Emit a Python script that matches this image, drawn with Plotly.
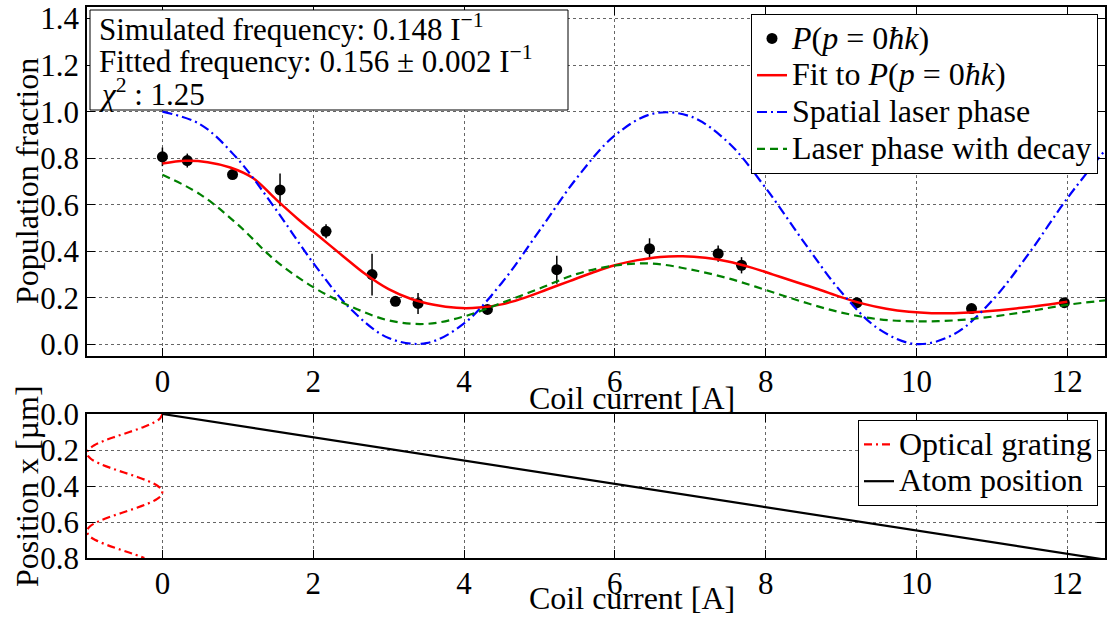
import plotly.graph_objects as go

# Measured population of the p = 0 hbar k momentum state vs. coil current
current = [0.0, 0.33, 0.93, 1.56, 2.17, 2.78, 3.09, 3.39, 4.31, 5.23, 6.46, 7.37, 7.68, 9.21, 10.73, 11.96]
population = [0.806, 0.790, 0.730, 0.664, 0.486, 0.300, 0.185, 0.176, 0.150, 0.321, 0.411, 0.390, 0.340, 0.179, 0.154, 0.179]
population_err = [0.04, 0.03, 0.012, 0.07, 0.03, 0.09, 0.02, 0.045, 0.015, 0.06, 0.045, 0.035, 0.035, 0.01, 0.008, 0.01]

# Damped-oscillation fit to the measured points
fit_current = [0.0, 0.3, 0.6, 0.9, 1.2, 1.5, 1.8, 2.1, 2.4, 2.7, 3.0, 3.3, 3.6, 3.9, 4.2, 4.5, 4.8,
               5.1, 5.4, 5.7, 6.0, 6.3, 6.6, 6.9, 7.2, 7.5, 7.8, 8.1, 8.4, 8.7, 9.0, 9.3, 9.6,
               9.9, 10.2, 10.5, 10.8, 11.1, 11.4, 11.7, 12.0]
fit_population = [0.777, 0.789, 0.783, 0.760, 0.715, 0.625, 0.538, 0.458, 0.378, 0.300, 0.237, 0.195,
                  0.170, 0.157, 0.158, 0.172, 0.200, 0.236, 0.272, 0.308, 0.340, 0.362, 0.376, 0.379,
                  0.372, 0.356, 0.331, 0.300, 0.268, 0.237, 0.203, 0.174, 0.153, 0.140, 0.134, 0.134,
                  0.139, 0.147, 0.157, 0.169, 0.183]

# Spatial laser phase seen by the atoms, and the same with decoherence
phase_current = [0.0, 0.5, 1.0, 1.5, 2.0, 2.5, 3.0, 3.5, 4.0, 4.5, 5.0, 5.5, 6.0, 6.5, 7.0,
                 7.5, 8.0, 8.5, 9.0, 9.5, 10.0, 10.5, 11.0, 11.5, 12.0, 12.5]
laser_phase = [1.000, 0.946, 0.796, 0.582, 0.350, 0.151, 0.027, 0.005, 0.090, 0.264, 0.489, 0.717,
               0.898, 0.991, 0.980, 0.869, 0.672, 0.443, 0.226, 0.066, 0.001, 0.044, 0.187, 0.395,
               0.628, 0.834]
laser_phase_decay = [0.729, 0.645, 0.515, 0.360, 0.246, 0.163, 0.103, 0.088, 0.120, 0.178, 0.240,
                     0.303, 0.339, 0.347, 0.322, 0.284, 0.234, 0.182, 0.137, 0.108, 0.099, 0.103,
                     0.119, 0.143, 0.170, 0.189]

# Lower panel: standing-wave intensity profile and atom displacement
grating_position = [0.0, 0.025, 0.05, 0.075, 0.1, 0.125, 0.15, 0.175, 0.2, 0.225, 0.25, 0.275, 0.3,
                    0.325, 0.35, 0.375, 0.4, 0.425, 0.45, 0.475, 0.5, 0.525, 0.55, 0.575, 0.6, 0.625,
                    0.65, 0.675, 0.7, 0.725, 0.75, 0.775, 0.8]
grating_intensity = [0.0, -0.032, -0.125, -0.266, -0.437, -0.616, -0.781, -0.909, -0.984, -0.997,
                     -0.946, -0.837, -0.685, -0.509, -0.332, -0.177, -0.062, -0.005, -0.012, -0.081,
                     -0.204, -0.366, -0.544, -0.719, -0.863, -0.963, -1.000, -0.975, -0.888, -0.750,
                     -0.584, -0.405, -0.239]
atom_current = [0.0, 12.5]
atom_position = [0.0, 0.809]

x_ticks = [0, 2, 4, 6, 8, 10, 12]

FONT = "Liberation Serif, Times New Roman, serif"
W, H = 1112, 619
ML, MR, MT, MB = 87, 7, 7, 61


def px_x(p):
    return (p - ML) / (W - ML - MR)


def px_y(p):
    return (H - MB - p) / (H - MT - MB)


def big(label):
    # legend rows keep a compact spacing while the label itself is drawn larger
    return '<span style="font-size:32px">' + label + "</span>"


fig = go.Figure()

fig.add_trace(go.Scatter(
    x=current, y=population, mode="markers",
    error_y=dict(type="data", array=population_err, color="black", thickness=1.5, width=0),
    marker=dict(color="black", size=11),
    name=big("<i>P</i>(<i>p</i> = 0<i>ħk</i>)"), legend="legend",
    xaxis="x", yaxis="y"))
fig.add_trace(go.Scatter(
    x=fit_current, y=fit_population, mode="lines",
    line=dict(color="#ff0000", width=2.5, shape="spline"),
    name=big("Fit to <i>P</i>(<i>p</i> = 0<i>ħk</i>)"), legend="legend",
    xaxis="x", yaxis="y"))
fig.add_trace(go.Scatter(
    x=phase_current, y=laser_phase, mode="lines",
    line=dict(color="#0000ff", width=2.2, dash="10px,4px,2px,4px", shape="spline"),
    name=big("Spatial laser phase"), legend="legend",
    xaxis="x", yaxis="y"))
fig.add_trace(go.Scatter(
    x=phase_current, y=laser_phase_decay, mode="lines",
    line=dict(color="#008000", width=2.2, dash="8px,5px", shape="spline"),
    name=big("Laser phase with decay"), legend="legend",
    xaxis="x", yaxis="y"))

fig.add_trace(go.Scatter(
    x=grating_intensity, y=grating_position, mode="lines",
    line=dict(color="#ff0000", width=2.2, dash="8px,4px,2px,4px", shape="spline"),
    name=big("Optical grating"), legend="legend2",
    xaxis="x2", yaxis="y2"))
fig.add_trace(go.Scatter(
    x=atom_current, y=atom_position, mode="lines",
    line=dict(color="black", width=2.2),
    name=big("Atom position"), legend="legend2",
    xaxis="x2", yaxis="y2"))

axis_style = dict(
    showline=True, linecolor="black", linewidth=1.5, mirror="ticks",
    ticks="inside", ticklen=8, tickwidth=1.2, tickcolor="black",
    showgrid=True, gridcolor="#666666", griddash="dot", gridwidth=1,
    zeroline=False, automargin=False,
    tickfont=dict(family=FONT, size=31, color="black"),
)

top_domain = [px_y(356), 1.0]
bottom_domain = [0.0, px_y(414)]

legend_style = dict(bgcolor="white", bordercolor="black", borderwidth=1,
                    font=dict(family=FONT, size=26, color="black"),
                    xanchor="right", yanchor="top")

fig.update_layout(
    width=W, height=H,
    margin=dict(l=ML, r=MR, t=MT, b=MB, autoexpand=False),
    paper_bgcolor="white", plot_bgcolor="white",
    font=dict(family=FONT, size=31, color="black"),
    showlegend=True,
    xaxis=dict(domain=[0, 1], range=[-1, 12.5], tickvals=x_ticks, anchor="y",
               ticklabelstandoff=-3, **axis_style),
    yaxis=dict(domain=top_domain, range=[-0.05, 1.45], dtick=0.2, tickformat=".1f",
               anchor="x", **axis_style),
    xaxis2=dict(domain=[0, 1], range=[-1, 12.5], tickvals=x_ticks, anchor="y2",
                ticklabelstandoff=-3, **axis_style),
    yaxis2=dict(domain=bottom_domain, range=[0.8, 0.0], dtick=0.2, tickformat=".1f",
                anchor="x2", **axis_style),
    legend=dict(x=px_x(1098), y=px_y(14), **legend_style),
    legend2=dict(x=px_x(1098), y=px_y(420), **legend_style),
)

# Frequency / fit-quality summary box in the upper-left corner
fig.add_shape(type="rect", xref="paper", yref="paper",
              x0=px_x(90), x1=px_x(568), y0=px_y(110), y1=px_y(10),
              line=dict(color="black", width=1), fillcolor="white", layer="above")
summary_lines = [
    "Simulated frequency: 0.148 I<sup>−1</sup>",
    "Fitted frequency: 0.156 ± 0.002 I<sup>−1</sup>",
    "<i>χ</i><sup>2</sup> : 1.25",
]
for text, ypix in zip(summary_lines, [28, 60, 92]):
    fig.add_annotation(text=text, xref="paper", yref="paper", x=px_x(97), y=px_y(ypix),
                       xanchor="left", yanchor="middle", showarrow=False,
                       font=dict(family=FONT, size=31, color="black"))

# Axis titles
for ypix in [398, 598]:
    fig.add_annotation(text="Coil current [A]", xref="paper", yref="paper",
                       x=px_x(632), y=px_y(ypix), xanchor="center", yanchor="middle",
                       showarrow=False, font=dict(family=FONT, size=32, color="black"))
fig.add_annotation(text="Population fraction", xref="paper", yref="paper",
                   x=px_x(27), y=px_y(181), xanchor="center", yanchor="middle", textangle=-90,
                   showarrow=False, font=dict(family=FONT, size=32, color="black"))
fig.add_annotation(text="Position x [µm]", xref="paper", yref="paper",
                   x=px_x(27), y=px_y(486), xanchor="center", yanchor="middle", textangle=-90,
                   showarrow=False, font=dict(family=FONT, size=32, color="black"))

fig.write_html("out.html")
